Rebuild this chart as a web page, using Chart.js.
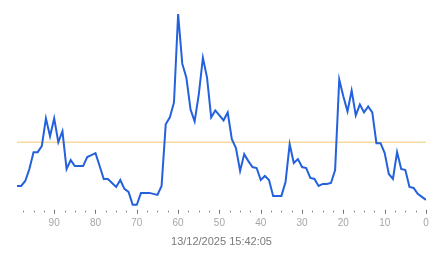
<!DOCTYPE html>
<html>
<head>
<meta charset="utf-8">
<script src="https://cdn.jsdelivr.net/npm/chart.js@4"></script>
<style>
  html, body { margin: 0; padding: 0; background: #fff; }
  #wrap { width: 443px; height: 258px; }
</style>
</head>
<body>
<div id="wrap"><canvas id="chart" width="443" height="258"></canvas></div>
<script>
// x positions (samples ago), oldest on the left
const ages = [
  99, 98, 97, 96, 95, 94, 93, 92, 91, 90, 89, 88, 87, 86, 85, 84, 83, 82, 81, 80,
  79, 78, 77, 76, 75, 74, 73, 72, 71, 70, 69, 68, 67, 66, 65, 64, 63, 62, 61, 60,
  59, 58, 57, 56, 55, 54, 53, 52, 51, 50, 49, 48, 47, 46, 45, 44, 43, 42, 41, 40,
  39, 38, 37, 36, 35, 34, 33, 32, 31, 30, 29, 28, 27, 26, 25, 24, 23, 22, 21, 20,
  19, 18, 17, 16, 15, 14, 13, 12, 11, 10, 9, 8, 7, 6, 5, 4, 3, 2, 1, 0
];
const readings = [
  23, 23, 28, 40, 57, 57, 63, 91, 73, 91, 67, 78, 40, 49, 43, 43, 43, 52, 54, 56,
  43, 30, 30, 26, 22, 29, 20, 17, 4, 4, 16, 16, 16, 15, 14, 23, 85, 92, 107, 196,
  146, 132, 100, 88, 115, 152, 132, 92, 99, 94, 89, 97, 70, 61, 38, 55, 48, 42, 41, 29,
  33, 29, 13, 13, 13, 27, 65, 46, 50, 42, 41, 31, 30, 23, 25, 25, 26, 39, 130, 113,
  98, 119, 94, 105, 97, 103, 97, 66, 66, 56, 35, 30, 57, 40, 39, 22, 21, 15, 12, 9
];
const threshold = 67;
const labelEvery = 10;
const tickStep = 2.5;
const stamp = "13/12/2025 15:42:05";

const series = ages.map((a, i) => ({ x: a, y: readings[i] }));
const limit = [{ x: ages[0], y: threshold }, { x: ages[ages.length - 1], y: threshold }];

// small tick marks under the axis: long for labelled ticks, dots for the rest
const tickMarks = {
  id: "tickMarks",
  afterDraw(chart) {
    const sx = chart.scales.x;
    const ctx = chart.ctx;
    const y0 = chart.chartArea.bottom + 1;
    ctx.save();
    ctx.strokeStyle = "#777";
    ctx.lineWidth = 1;
    sx.ticks.forEach(t => {
      const px = Math.round(sx.getPixelForValue(t.value)) + 0.5;
      const major = t.value % labelEvery === 0;
      ctx.beginPath();
      ctx.moveTo(px, y0 + (major ? 0 : 1));
      ctx.lineTo(px, y0 + (major ? 4 : 2.5));
      ctx.stroke();
    });
    ctx.restore();
  }
};

new Chart(document.getElementById("chart"), {
  type: "line",
  data: {
    datasets: [
      {
        data: series,
        borderColor: "#2461dc",
        borderWidth: 2,
        pointRadius: 0,
        tension: 0,
        fill: false
      },
      {
        data: limit,
        borderColor: "#f2c86e",
        borderWidth: 1,
        pointRadius: 0,
        fill: false
      }
    ]
  },
  options: {
    responsive: false,
    animation: false,
    layout: { padding: { left: 17, right: 17, top: 10, bottom: 9 } },
    plugins: {
      legend: { display: false },
      tooltip: { enabled: false }
    },
    scales: {
      x: {
        type: "linear",
        reverse: true,
        min: 0,
        max: 99,
        afterBuildTicks(scale) {
          const ticks = [];
          for (let v = 0; v <= scale.max; v += tickStep) ticks.push({ value: v });
          scale.ticks = ticks;
        },
        ticks: {
          autoSkip: false,
          maxRotation: 0,
          padding: 4,
          color: "#a6a6a6",
          font: { family: "Liberation Sans, Arial", size: 10 },
          callback: v => (v % labelEvery === 0 ? String(v) : "")
        },
        grid: { drawOnChartArea: false, tickLength: 4, tickColor: "rgba(0,0,0,0)" },
        border: { display: false },
        title: {
          display: true,
          text: stamp,
          color: "#7a7a7a",
          font: { family: "Liberation Sans, Arial", size: 11 },
          padding: { top: 3, bottom: 0 }
        }
      },
      y: {
        display: false,
        min: 0,
        max: 200
      }
    }
  },
  plugins: [tickMarks]
});
</script>
</body>
</html>
